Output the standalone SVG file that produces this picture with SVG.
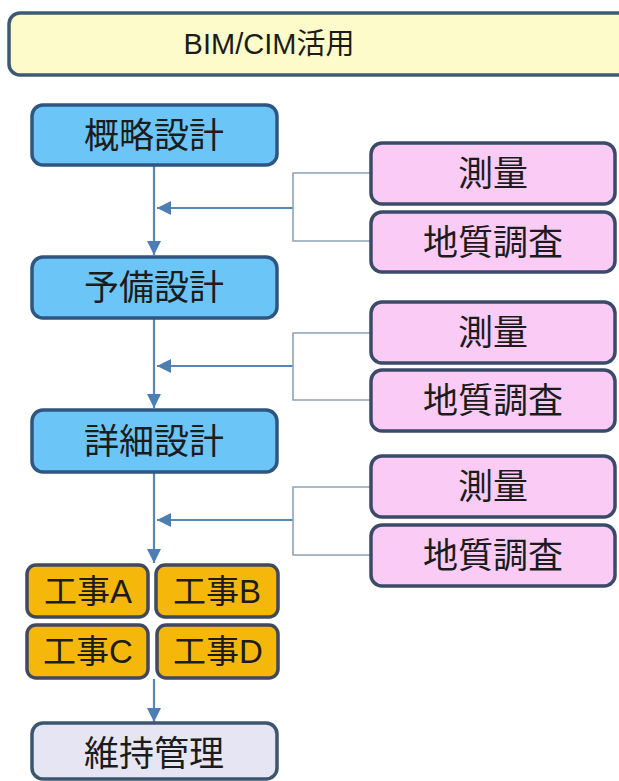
<svg xmlns="http://www.w3.org/2000/svg" width="619" height="781" viewBox="0 0 619 781">
<style>
.t{font-family:"Liberation Sans","Noto Sans CJK JP",sans-serif;fill:#1c1c1c;text-anchor:middle}
.blue{fill:#6cc5f7;stroke:#2f5680;stroke-width:3.5}
.pink{fill:#f9cbf5;stroke:#3c4a6a;stroke-width:3.5}
.gold{fill:#f4b70a;stroke:#3f4a5e;stroke-width:3.5}
.grey{fill:#e6e5f3;stroke:#3d5670;stroke-width:3.5}
.main{stroke:#5a86b6;stroke-width:2.2;fill:none}
.br{stroke:#8ea3b6;stroke-width:1.6;fill:none}
</style>
<defs>
<marker id="ah" markerUnits="userSpaceOnUse" markerWidth="16" markerHeight="16" viewBox="0 0 16 16" refX="15" refY="8" orient="auto">
<path d="M1,1 L15,8 L1,15 Z" fill="#4d7db5"/>
</marker>
</defs>
<rect width="619" height="781" fill="#ffffff"/>
<g id="title">
<rect x="9" y="13" width="630" height="62" rx="11" fill="#fdfbc9" stroke="#3e5a72" stroke-width="3.5"/>
<text class="t" x="269" y="54" font-size="29">BIM/CIM活用</text>
</g>
<g id="connectors">
<path class="main" d="M154,166 V255" marker-end="url(#ah)"/>
<path class="main" d="M154,319 V408" marker-end="url(#ah)"/>
<path class="main" d="M154,473 V563" marker-end="url(#ah)"/>
<path class="main" d="M154,679 V722" marker-end="url(#ah)"/>
<path class="main" d="M293,208 H157" marker-end="url(#ah)"/>
<path class="main" d="M293,366 H157" marker-end="url(#ah)"/>
<path class="main" d="M293,520 H157" marker-end="url(#ah)"/>
<path class="br" d="M370,173 H293 V241 H370"/>
<path class="br" d="M370,333 H293 V400 H370"/>
<path class="br" d="M370,487 H293 V555 H370"/>
</g>
<g id="gairyaku">
<rect class="blue" x="32" y="105" width="245" height="60" rx="11"/>
<text class="t" x="154" y="148" font-size="35">概略設計</text>
</g>
<g id="yobi">
<rect class="blue" x="32" y="257" width="245" height="61" rx="11"/>
<text class="t" x="154" y="300" font-size="35">予備設計</text>
</g>
<g id="shousai">
<rect class="blue" x="32" y="410" width="245" height="62" rx="11"/>
<text class="t" x="154" y="454" font-size="35">詳細設計</text>
</g>
<g id="sokuryo1">
<rect class="pink" x="371" y="143" width="244" height="61" rx="11"/>
<text class="t" x="493" y="186" font-size="35">測量</text>
</g>
<g id="chishitsu1">
<rect class="pink" x="371" y="212" width="244" height="60" rx="11"/>
<text class="t" x="493" y="255" font-size="35">地質調査</text>
</g>
<g id="sokuryo2">
<rect class="pink" x="371" y="302" width="244" height="61" rx="11"/>
<text class="t" x="493" y="345" font-size="35">測量</text>
</g>
<g id="chishitsu2">
<rect class="pink" x="371" y="370" width="244" height="61" rx="11"/>
<text class="t" x="493" y="413" font-size="35">地質調査</text>
</g>
<g id="sokuryo3">
<rect class="pink" x="371" y="456" width="244" height="61" rx="11"/>
<text class="t" x="493" y="499" font-size="35">測量</text>
</g>
<g id="chishitsu3">
<rect class="pink" x="371" y="525" width="244" height="61" rx="11"/>
<text class="t" x="493" y="568" font-size="35">地質調査</text>
</g>
<g id="koujiA">
<rect class="gold" x="27" y="565" width="121" height="52" rx="9"/>
<text class="t" x="88" y="603" font-size="33">工事A</text>
</g>
<g id="koujiB">
<rect class="gold" x="156" y="565" width="122" height="52" rx="9"/>
<text class="t" x="217" y="603" font-size="33">工事B</text>
</g>
<g id="koujiC">
<rect class="gold" x="27" y="625" width="121" height="53" rx="9"/>
<text class="t" x="88" y="663" font-size="33">工事C</text>
</g>
<g id="koujiD">
<rect class="gold" x="157" y="625" width="121" height="53" rx="9"/>
<text class="t" x="218" y="663" font-size="33">工事D</text>
</g>
<g id="iji">
<rect class="grey" x="32" y="723" width="245" height="56" rx="11"/>
<text class="t" x="154" y="766" font-size="35">維持管理</text>
</g>
</svg>
